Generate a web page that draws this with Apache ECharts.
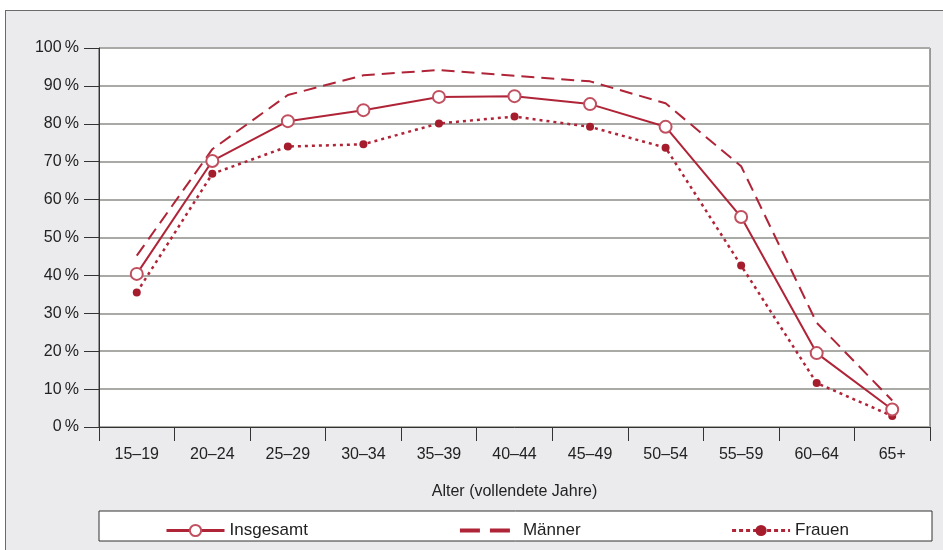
<!DOCTYPE html>
<html>
<head>
<meta charset="utf-8">
<script src="https://cdn.jsdelivr.net/npm/echarts@6/dist/echarts.min.js"></script>
<style>
  html, body { margin: 0; padding: 0; background: #fff; }
  #wrap { position: relative; width: 943px; height: 550px; overflow: hidden; }
  #frame { position: absolute; left: 5px; top: 10px; width: 960px; height: 600px;
           background: #ebebed; border-top: 1px solid #6a6a6a; border-left: 1px solid #6a6a6a; }
  #chart { position: absolute; left: 0; top: 0; width: 943px; height: 550px; }
</style>
</head>
<body>
<div id="wrap">
  <div id="frame"></div>
  <div id="chart"></div>
</div>
<script>
// Altersgruppen
const ageGroups = ['15–19', '20–24', '25–29', '30–34', '35–39', '40–44', '45–49', '50–54', '55–59', '60–64', '65+'];
// Werte in %
const insgesamt = [40.4, 70.2, 80.7, 83.6, 87.1, 87.3, 85.2, 79.2, 55.4, 19.5, 4.6];
const maenner = [45.2, 73.3, 87.6, 92.8, 94.2, 92.7, 91.2, 85.4, 68.8, 27.5, 7.0];
const frauen = [35.5, 66.8, 74.0, 74.6, 80.1, 81.9, 79.2, 73.7, 42.6, 11.6, 2.9];
const yTicks = [0, 10, 20, 30, 40, 50, 60, 70, 80, 90, 100];

const red = '#b02438';
const font = 'Liberation Sans, Arial, sans-serif';

const chart = echarts.init(document.getElementById('chart'), null, { renderer: 'canvas' });

chart.setOption({
  backgroundColor: 'transparent',
  textStyle: { fontFamily: font },
  grid: {
    left: 99,
    right: 13,
    top: 48,
    bottom: 123,
    show: true,
    backgroundColor: '#fff',
    borderColor: '#444',
    borderWidth: 1,
  },
  graphic: [
    {
      type: 'rect',
      z: 0,
      shape: { x: 99, y: 511, width: 833, height: 30 },
      style: { fill: '#fff', stroke: '#333', lineWidth: 1 },
      silent: true,
    },
  ],
  legend: {
    left: 160,
    top: 517,
    itemGap: 150,
    itemWidth: 58,
    itemHeight: 14,
    z: 5,
    textStyle: { fontSize: 17, color: '#222', fontFamily: font },
    data: [
      { name: 'Insgesamt', lineStyle: { width: 3 } },
      { name: 'Männer', lineStyle: { width: 4, type: [20, 10] }, itemStyle: { opacity: 0 } },
      { name: 'Frauen', lineStyle: { width: 3, type: [4, 3] } },
    ],
  },
  xAxis: {
    type: 'category',
    data: ageGroups,
    boundaryGap: true,
    name: 'Alter (vollendete Jahre)',
    nameLocation: 'middle',
    nameGap: 57,
    nameTextStyle: { fontSize: 16, color: '#222' },
    axisLine: { lineStyle: { color: '#333', width: 1 } },
    axisTick: { show: true, length: 14, interval: 0, lineStyle: { color: '#333' } },
    axisLabel: { fontSize: 16, color: '#222', margin: 20, interval: 0 },
    splitLine: { show: false },
  },
  yAxis: {
    type: 'value',
    min: yTicks[0],
    max: yTicks[yTicks.length - 1],
    interval: 10,
    axisLine: { show: true, lineStyle: { color: '#333', width: 1 } },
    axisTick: { show: true, length: 15, lineStyle: { color: '#333' } },
    axisLabel: {
      fontSize: 16,
      color: '#222',
      margin: 20,
      formatter: (v) => v + '\u2009%',
    },
    splitLine: { show: true, lineStyle: { color: '#a9a9a6', width: 2 } },
  },
  series: [
    {
      name: 'Insgesamt',
      type: 'line',
      data: insgesamt,
      symbol: 'circle',
      symbolSize: 12,
      z: 4,
      lineStyle: { color: red, width: 2 },
      itemStyle: { color: '#fff', borderColor: '#c0505f', borderWidth: 2 },
    },
    {
      name: 'Männer',
      type: 'line',
      data: maenner,
      symbol: 'none',
      z: 3,
      lineStyle: { color: red, width: 2, type: [13, 7] },
      itemStyle: { color: red },
    },
    {
      name: 'Frauen',
      type: 'line',
      data: frauen,
      symbol: 'circle',
      symbolSize: 8,
      z: 3,
      lineStyle: { color: red, width: 2.5, type: [3, 4] },
      itemStyle: { color: '#a51c2c' },
    },
  ],
});
</script>
</body>
</html>
